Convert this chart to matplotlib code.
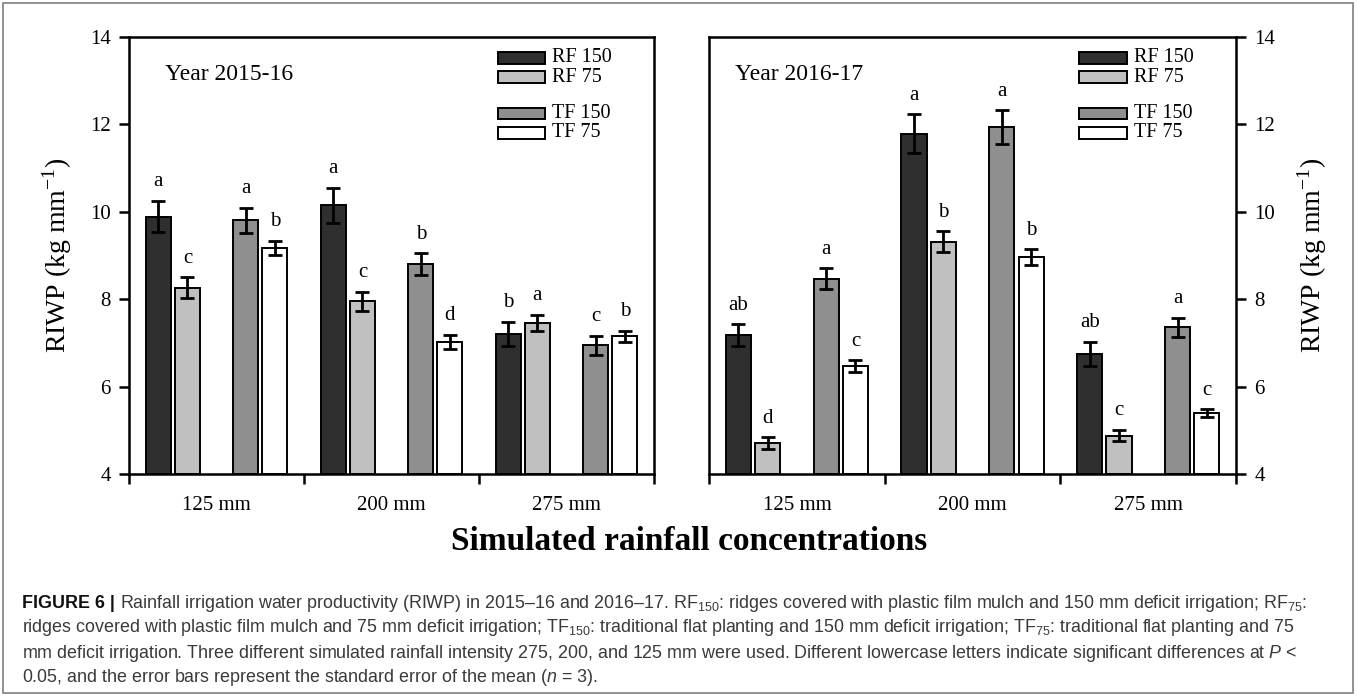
import numpy as np
import matplotlib.pyplot as plt
from matplotlib.patches import Rectangle

plt.rcParams['font.family'] = 'Liberation Serif'
plt.rcParams['mathtext.fontset'] = 'custom'
plt.rcParams['mathtext.rm'] = 'Liberation Sans'
plt.rcParams['mathtext.it'] = 'Liberation Sans:italic'

# data
groups = ['125 mm', '200 mm', '275 mm']
series = ['RF 150', 'RF 75', 'TF 150', 'TF 75']
colors = ['#2f2f2f', '#c0c0c0', '#8f8f8f', '#ffffff']

# year 2015-16
rf150_a = [9.89, 10.15, 7.20]
rf75_a = [8.26, 7.95, 7.45]
tf150_a = [9.80, 8.80, 6.94]
tf75_a = [9.18, 7.03, 7.15]
rf150_a_se = [0.36, 0.40, 0.28]
rf75_a_se = [0.24, 0.22, 0.19]
tf150_a_se = [0.29, 0.25, 0.22]
tf75_a_se = [0.16, 0.16, 0.12]
rf150_a_let = ['a', 'a', 'b']
rf75_a_let = ['c', 'c', 'a']
tf150_a_let = ['a', 'b', 'c']
tf75_a_let = ['b', 'd', 'b']

# year 2016-17
rf150_b = [7.17, 11.79, 6.75]
rf75_b = [4.71, 9.31, 4.88]
tf150_b = [8.47, 11.94, 7.36]
tf75_b = [6.47, 8.96, 5.39]
rf150_b_se = [0.25, 0.44, 0.28]
rf75_b_se = [0.13, 0.24, 0.13]
tf150_b_se = [0.24, 0.38, 0.22]
tf75_b_se = [0.13, 0.18, 0.09]
rf150_b_let = ['ab', 'a', 'ab']
rf75_b_let = ['d', 'b', 'c']
tf150_b_let = ['a', 'a', 'a']
tf75_b_let = ['c', 'b', 'c']

fig = plt.figure(figsize=(13.57, 6.97), dpi=100)
ax1 = fig.add_axes([0.0951, 0.320, 0.3869, 0.627])
ax2 = fig.add_axes([0.5225, 0.320, 0.3884, 0.627])

offsets = np.array([-2, -1, 1, 2]) / 6.0
barw = 0.143
xg = np.arange(len(groups)) + 0.5


def panel(ax, vals, errs, lets, year, side):
    for i in range(4):
        x = xg + offsets[i]
        ax.bar(x, np.array(vals[i]) - 4, barw, bottom=4, color=colors[i],
               edgecolor='black', linewidth=1.4, zorder=2)
        ax.errorbar(x, vals[i], yerr=errs[i], fmt='none', ecolor='black',
                    elinewidth=2.0, capsize=5, capthick=2.0, zorder=3)
        for xx, v, e, l in zip(x, vals[i], errs[i], lets[i]):
            ax.text(xx, v + e + 0.22, l, ha='center', va='bottom', fontsize=15)
    ax.set_xlim(0, 3)
    ax.set_ylim(4, 14)
    ax.set_yticks([4, 6, 8, 10, 12, 14])
    ax.set_xticks([0, 1, 2, 3])
    ax.set_xticklabels([])
    ax.set_xticks(xg, minor=True)
    ax.set_xticklabels(groups, minor=True)
    ax.tick_params(axis='x', which='major', direction='out', length=7, width=1.8)
    ax.tick_params(axis='x', which='minor', length=0, pad=16, labelsize=15)
    ax.tick_params(axis='y', direction='out', length=7, width=1.8, labelsize=15,
                   pad=6)
    for s in ax.spines.values():
        s.set_linewidth(1.8)
    ax.set_ylabel('RIWP (kg mm$^{\\mathregular{-1}}$)', fontsize=20)
    if side == 'right':
        ax.yaxis.tick_right()
        ax.yaxis.set_label_position('right')
        ax.yaxis.set_label_coords(1.112, 0.5)
    else:
        ax.yaxis.set_label_coords(-0.105, 0.5)
    ax.text(0.069 if side == 'left' else 0.049, 0.913, year, transform=ax.transAxes,
            fontsize=17, va='center', ha='left')
    # legend boxes
    rows = [0.952, 0.908, 0.825, 0.781]
    for i in range(4):
        ax.add_patch(Rectangle((0.702, rows[i] - 0.0135), 0.091, 0.027,
                               transform=ax.transAxes, facecolor=colors[i],
                               edgecolor='black', linewidth=1.4, zorder=4))
        ax.text(0.806, rows[i], series[i], transform=ax.transAxes, fontsize=14.5,
                va='center', ha='left')


panel(ax1, [rf150_a, rf75_a, tf150_a, tf75_a],
      [rf150_a_se, rf75_a_se, tf150_a_se, tf75_a_se],
      [rf150_a_let, rf75_a_let, tf150_a_let, tf75_a_let], 'Year 2015-16', 'left')
panel(ax2, [rf150_b, rf75_b, tf150_b, tf75_b],
      [rf150_b_se, rf75_b_se, tf150_b_se, tf75_b_se],
      [rf150_b_let, rf75_b_let, tf150_b_let, tf75_b_let], 'Year 2016-17', 'right')

fig.text(0.508, 1 - 542 / 697, 'Simulated rainfall concentrations', fontsize=24,
         fontweight='bold', ha='center', va='center')

# caption
cap = [
    'Rainfall irrigation water productivity (RIWP) in 2015\u201316 and 2016\u201317. '
    'RF$_{\\mathregular{150}}$: ridges covered with plastic film mulch and 150 mm deficit '
    'irrigation; RF$_{\\mathregular{75}}$:',
    'ridges covered with plastic film mulch and 75 mm deficit irrigation; '
    'TF$_{\\mathregular{150}}$: traditional flat planting and 150 mm deficit irrigation; '
    'TF$_{\\mathregular{75}}$: traditional flat planting and 75',
    'mm deficit irrigation. Three different simulated rainfall intensity 275, 200, and '
    '125 mm were used. Different lowercase letters indicate significant differences at '
    '$\\mathit{P}$ <',
    '0.05, and the error bars represent the standard error of the mean '
    '($\\mathit{n}$ = 3).',
]
cfs = 12.85
x0 = 22 / 1357
ys = [603, 628, 653, 678]
fig.canvas.draw()
r = fig.canvas.get_renderer()
head = fig.text(x0, 1 - ys[0] / 697, 'FIGURE 6 | ', family='Liberation Sans',
                fontweight='bold', fontsize=cfs, va='center', color='#111111')
wb = head.get_window_extent(r).width / 1357
for k, line in enumerate(cap):
    xx = x0 + wb if k == 0 else x0
    fig.text(xx, 1 - ys[k] / 697, line, family='Liberation Sans', fontsize=cfs,
             va='center', color='#3a3a3a')

fig.patches.append(Rectangle((0.002, 0.006), 0.995, 0.99, transform=fig.transFigure,
                             fill=False, edgecolor='#808080', linewidth=1.2))

fig.savefig('out.png', dpi=100)
